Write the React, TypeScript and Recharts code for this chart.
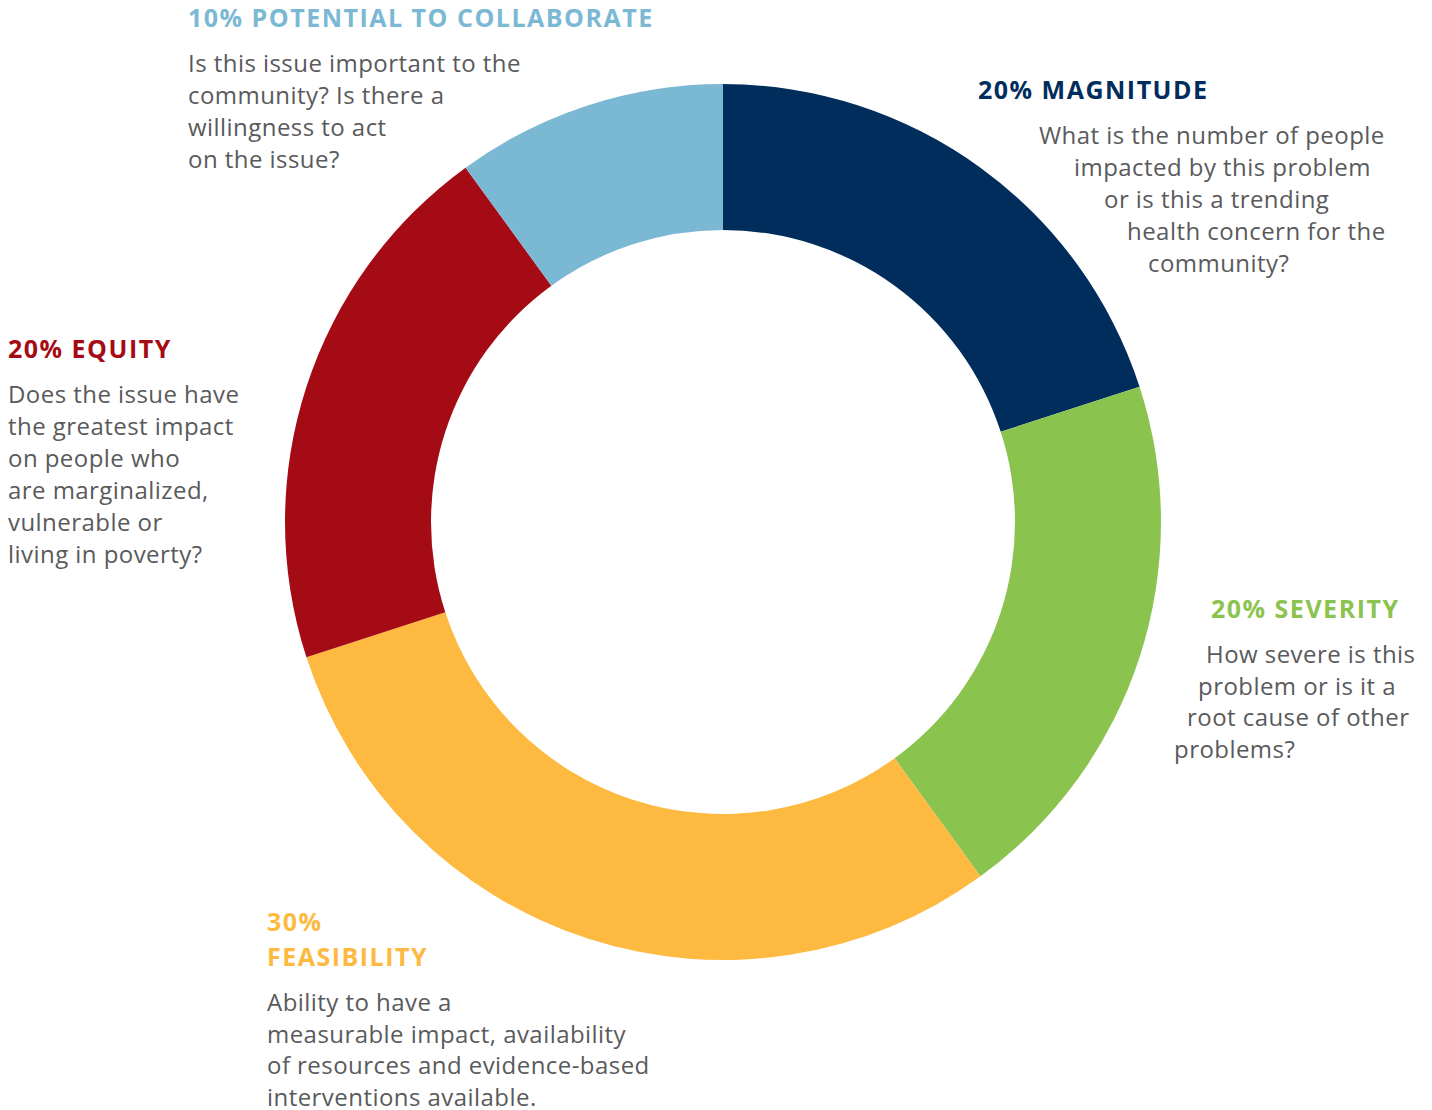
import React from "react";
import { PieChart, Pie, Cell } from "recharts";

const categories = ["MAGNITUDE", "SEVERITY", "FEASIBILITY", "EQUITY", "POTENTIAL TO COLLABORATE"];
const weights = [20, 20, 30, 20, 10];
const colors = ["#002D5B", "#8BC34F", "#FDB940", "#A50B14", "#7AB8D4"];

const headingLines = [
  ["20% MAGNITUDE"],
  ["20% SEVERITY"],
  ["30%", "FEASIBILITY"],
  ["20% EQUITY"],
  ["10% POTENTIAL TO COLLABORATE"],
];
const bodyLines = [
  ["What is the number of people", "impacted by this problem", "or is this a trending", "health concern for the", "community?"],
  ["How severe is this", "problem or is it a", "root cause of other", "problems?"],
  ["Ability to have a", "measurable impact, availability", "of resources and evidence-based", "interventions available."],
  ["Does the issue have", "the greatest impact", "on people who", "are marginalized,", "vulnerable or", "living in poverty?"],
  ["Is this issue important to the", "community? Is there a", "willingness to act", "on the issue?"],
];

const data = categories.map((c, i) => ({ name: c, value: weights[i] }));

// layout of annotation blocks
const headX = [978, 1211, 267, 8, 188];
const headY = [[99], [618], [931, 966], [358], [27]];
const bodyX = [
  [1039, 1074, 1104, 1127, 1148],
  [1206, 1198, 1187, 1174],
  [267, 267, 267, 267],
  [8, 8, 8, 8, 8, 8],
  [188, 188, 188, 188],
];
const bodyY0 = [144, 663, 1011, 403, 72];
const bodyStep = [32, 31.5, 31.5, 32, 32];

const W = 1432;
const H = 1110;

export default function App() {
  return (
    <div style={{ position: "absolute", left: 0, top: 0, width: W, height: H, background: "#fff" }}>
      <PieChart width={W} height={H} margin={{ top: 0, right: 0, bottom: 0, left: 0 }}>
        <Pie
          data={data}
          dataKey="value"
          nameKey="name"
          cx={723}
          cy={522}
          innerRadius={292}
          outerRadius={438}
          startAngle={90}
          endAngle={-270}
          stroke="none"
          isAnimationActive={false}
        >
          {data.map((d, i) => (
            <Cell key={d.name} fill={colors[i]} />
          ))}
        </Pie>
      </PieChart>
      <svg
        width={W}
        height={H}
        style={{ position: "absolute", left: 0, top: 0, pointerEvents: "none" }}
        fontFamily="'Open Sans', sans-serif"
      >
        {categories.map((c, i) => (
          <g key={c}>
            {headingLines[i].map((t, j) => (
              <text key={t} x={headX[i]} y={headY[i][j]} fill={colors[i]} fontSize={25} fontWeight={700} letterSpacing={1.5}>
                {t}
              </text>
            ))}
            {bodyLines[i].map((t, j) => (
              <text key={t} x={bodyX[i][j]} y={bodyY0[i] + j * bodyStep[i]} fill="#595A5C" fontSize={24} letterSpacing={0.45}>
                {t}
              </text>
            ))}
          </g>
        ))}
      </svg>
    </div>
  );
}
